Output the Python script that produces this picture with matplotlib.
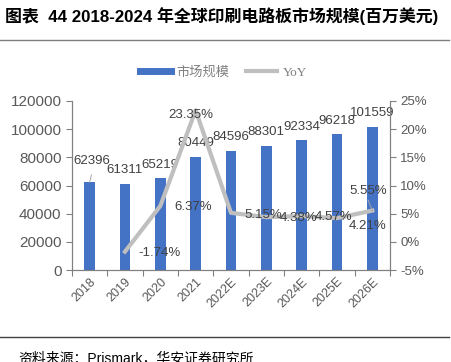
import numpy as np
import matplotlib.pyplot as plt
from matplotlib.lines import Line2D

plt.rcParams['font.family'] = ['Liberation Sans', 'Noto Sans CJK SC', 'DejaVu Sans']

# === DATI ===
years = ["2018", "2019", "2020", "2021", "2022E", "2023E", "2024E", "2025E", "2026E"]
market = [62396, 61311, 65219, 80449, 84596, 88301, 92334, 96218, 101559]
yoy = [None, -1.74, 6.37, 23.35, 5.15, 4.38, 4.57, 4.21, 5.55]

# spostamento delle etichette in pixel (dx a destra, dy in basso)
bar_lbl_px = [(2, -21), (0, -14), (0, -13), (0, -14), (0, -14), (0, -14), (0, -13), (0, -13), (0, -14)]
yoy_lbl_px = [None, (35, 1), (33, 1), (-5, 5), (32, 2), (32, 1), (32, 1), (31, 8), (-4, -20)]

blue = "#4472C4"
gray_line = "#BFBFBF"
txt = "#404040"
tick_c = "#595959"
PX = 72 / 100  # pixel -> punti

fig = plt.figure(figsize=(4.51, 3.62), dpi=100)
ax = fig.add_axes([0.1596, 0.2541, 0.7051, 0.4669])
ax2 = ax.twinx()

x = np.arange(len(years))
ax.bar(x, market, width=0.31, color=blue, zorder=2)
ax.set_ylim(0, 120000)
ax.set_xlim(-0.5, len(years) - 0.5)
ax.set_yticks(np.arange(0, 120001, 20000))

# tick x ai bordi delle categorie, etichette al centro
ax.set_xticks(np.arange(-0.5, len(years), 1.0))
ax.set_xticklabels([])
ax.set_xticks(x, minor=True)
ax.set_xticklabels(years, minor=True, rotation=45, fontsize=9, color=tick_c)
ax.tick_params(axis='x', which='minor', length=0, pad=4)
ax.tick_params(axis='x', which='major', length=4, color="#808080")
ax.tick_params(axis='y', labelsize=11, colors=tick_c, length=4, color="#808080")
for lbl in ax.get_xticklabels(minor=True):
    lbl.set_ha('right')
    lbl.set_rotation_mode('anchor')

yx = [i for i, v in enumerate(yoy) if v is not None]
yv = [v for v in yoy if v is not None]
ax2.plot(yx, yv, color=gray_line, lw=3, zorder=3)
ax2.set_ylim(-5, 25)
ax2.set_yticks(np.arange(-5, 26, 5))
ax2.set_yticklabels([f"{v}%" for v in range(-5, 26, 5)])
ax2.tick_params(axis='y', labelsize=9.5, colors=tick_c, length=4, color="#808080")

for a in (ax, ax2):
    a.spines['top'].set_visible(False)
    for s in ('left', 'right', 'bottom'):
        a.spines[s].set_color("#808080")
        a.spines[s].set_linewidth(0.8)

# etichette barre
for i, v in enumerate(market):
    dx, dy = bar_lbl_px[i]
    ax.annotate(str(v), (x[i], v), xytext=(dx * PX, -dy * PX), textcoords='offset points',
                ha='center', va='center', fontsize=9.5, color=txt, zorder=5)
ax.plot([x[0] + 0.05, x[0]], [67500, 62396], color="#A6A6A6", lw=0.7, zorder=4)

# etichette YoY
for i, v in enumerate(yoy):
    if v is None:
        continue
    dx, dy = yoy_lbl_px[i]
    ax2.annotate(f"{v:.2f}%", (x[i], v), xytext=(dx * PX, -dy * PX), textcoords='offset points',
                 ha='center', va='center', fontsize=9.5, color=txt, zorder=5)
ax2.plot([7.88, 8], [7.4, 5.55], color="#A6A6A6", lw=0.7, zorder=4)

# legenda
handles = [Line2D([0], [0], color=blue, lw=5), Line2D([0], [0], color=gray_line, lw=3)]
leg = fig.legend(handles, ["市场规模", "YoY"], loc='center', bbox_to_anchor=(0.495, 0.80),
                 ncol=2, frameon=False, fontsize=9.5, handlelength=2.4, columnspacing=1.2,
                 handletextpad=0.4)
for t in leg.get_texts():
    t.set_color("#808080")
leg.get_texts()[1].set_family(['Liberation Serif', 'DejaVu Serif'])

# titolo e linee
fig.text(0.012, 0.955, "图表  44 2018-2024 年全球印刷电路板市场规模(百万美元)",
         fontsize=12.2, fontweight='bold', ha='left', va='center', color="#000000")
fig.add_artist(Line2D([0.0, 0.995], [0.889, 0.889], color="#7F7F7F", lw=1.0))
fig.add_artist(Line2D([0.0, 0.995], [0.069, 0.069], color="#404040", lw=1.0))
fig.text(0.04, 0.030, "资料来源：Prismark，华安证券研究所", fontsize=10, ha='left', va='top', color="#000000")

fig.savefig("out.png", dpi=100)
